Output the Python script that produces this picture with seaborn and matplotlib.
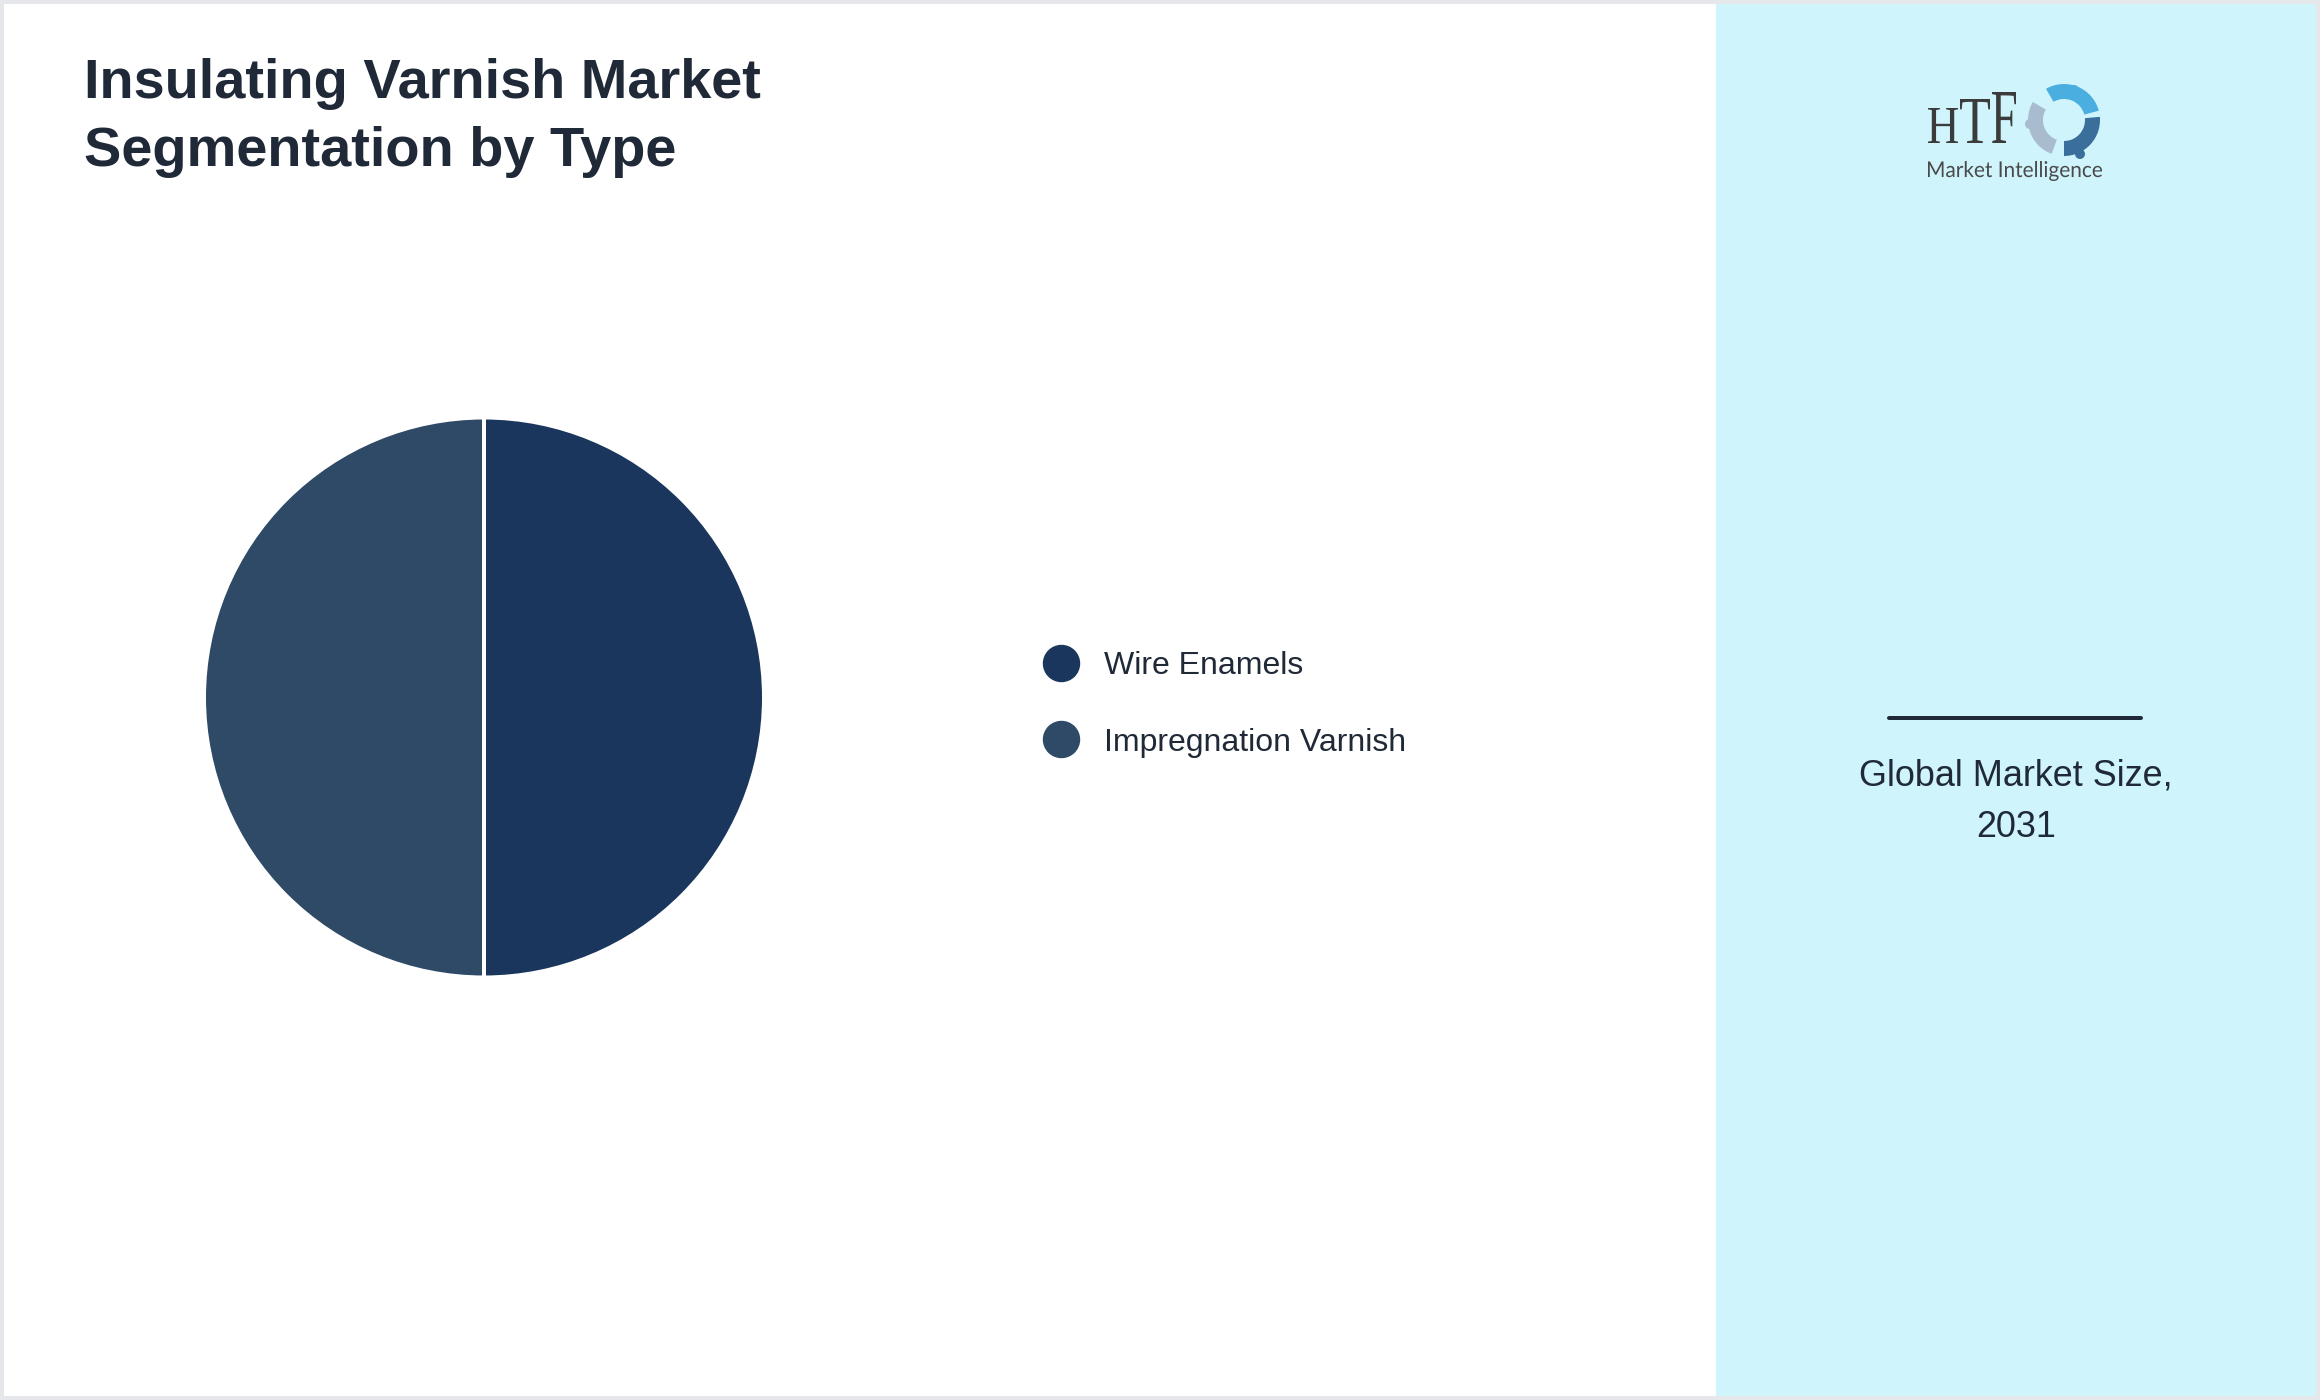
import matplotlib
matplotlib.use("Agg")
import matplotlib.pyplot as plt
import seaborn as sns
from matplotlib.patches import Rectangle, PathPatch, Wedge, Circle
from matplotlib.lines import Line2D
from matplotlib.textpath import TextPath
from matplotlib.font_manager import FontProperties
from matplotlib.transforms import Affine2D

# ---------------- data ----------------
title_lines = ["Insulating Varnish Market", "Segmentation by Type"]
segments = ["Wire Enamels", "Impregnation Varnish"]
shares = [50, 50]
segment_colors = ["#1b365d", "#2e4a66"]
panel_lines = ["Global Market Size,", "2031"]

# ---------------- style ----------------
sns.set_theme(style="white")
plt.rcParams["font.family"] = ["Liberation Sans", "DejaVu Sans"]

W, H = 2320, 1400
DPI = 100
TEXT = "#1f2937"

fig = plt.figure(figsize=(W / DPI, H / DPI), dpi=DPI)
fig.patch.set_facecolor("#e5e7eb")


def fx(x):
    return x / W


def fy(y):
    return 1 - y / H


def pt(px):
    return px * 72 / DPI


# white card and cyan side panel
fig.add_artist(Rectangle((fx(4), fy(1396)), (W - 8) / W, (H - 8) / H,
                         transform=fig.transFigure, facecolor="white",
                         edgecolor="none", zorder=0))
fig.add_artist(Rectangle((fx(1716), fy(1396)), (2316 - 1716) / W, (H - 8) / H,
                         transform=fig.transFigure, facecolor="#cff4fc",
                         edgecolor="none", zorder=0))

# ---------------- title ----------------
fig.text(fx(84), fy(98), title_lines[0], fontsize=pt(56), fontweight="bold",
         color=TEXT, va="baseline", ha="left")
fig.text(fx(84), fy(166), title_lines[1], fontsize=pt(56), fontweight="bold",
         color=TEXT, va="baseline", ha="left")

# ---------------- pie ----------------
cx, cy, r = 484, 697.5, 280
ax = fig.add_axes([fx(cx - r), fy(cy + r), 2 * r / W, 2 * r / H])
palette = sns.color_palette(segment_colors)
ax.pie(shares, colors=palette, startangle=90, counterclock=False,
       wedgeprops=dict(edgecolor="white", linewidth=pt(4)))
ax.set_xlim(-1, 1)
ax.set_ylim(-1, 1)
ax.set_aspect("equal")
ax.axis("off")

# ---------------- legend ----------------
handles = [Line2D([0], [0], marker="o", linestyle="none", markersize=pt(36),
                  markerfacecolor=c, markeredgecolor=c) for c in palette]
leg = fig.legend(handles, segments, loc="center left",
                 bbox_to_anchor=(fx(1043), fy(704.5)), frameon=False,
                 fontsize=pt(32), handlelength=1.125, handletextpad=0.78,
                 labelspacing=1.44, borderpad=0, borderaxespad=0)
for t in leg.get_texts():
    t.set_color(TEXT)

# ---------------- right panel ----------------
fig.add_artist(Line2D([fx(1889), fx(2141)], [fy(718), fy(718)],
                      transform=fig.transFigure, color=TEXT, linewidth=pt(4)))
fig.text(fx(2016), fy(786), panel_lines[0], fontsize=pt(36), color=TEXT,
         ha="center", va="baseline")
fig.text(fx(2016), fy(837), panel_lines[1], fontsize=pt(36), color=TEXT,
         ha="center", va="baseline")

# ---------------- logo ----------------
def place_text(s, family, x0, x1, top, bottom, color, weight="normal"):
    tp = TextPath((0, 0), s, size=100, prop=FontProperties(family=family, weight=weight))
    e = tp.get_extents()
    sx = (x1 - x0) / e.width
    sy = (bottom - top) / e.height
    tr = Affine2D().translate(-e.x0, -e.y0).scale(sx, sy).translate(x0, H - bottom)
    tr = tr + Affine2D().scale(1 / W, 1 / H)
    fig.add_artist(PathPatch(tr.transform_path(tp), transform=fig.transFigure,
                             facecolor=color, edgecolor="none", zorder=3))


logo_dark = "#3b3b3b"
place_text("H", "Liberation Serif", 1928, 1958, 108, 143, logo_dark)
place_text("T", "Liberation Serif", 1960, 1990, 99, 143, logo_dark)
place_text("F", "Liberation Serif", 1992, 2016, 92, 143, logo_dark)
place_text("Market Intelligence", "Lato", 1928, 2102, 161, 181, "#4a4a4a")

# icon drawn in a small pixel-scaled axes
icx, icy = 2064, 120
iax = fig.add_axes([fx(icx - 42), fy(icy + 42), 84 / W, 84 / H])
iax.set_xlim(-42, 42)
iax.set_ylim(-42, 42)
iax.set_aspect("equal")
iax.axis("off")
for (a0, a1, col, hx, hy) in [(15, 120, "#4aaee0", 10, 30),
                              (150, 250, "#a9bccf", -34, -4),
                              (270, 5, "#3a6e9b", 16, -34)]:
    iax.add_patch(Wedge((0, 0), 36, a0, a1, width=15, facecolor=col, edgecolor="none"))
    iax.add_patch(Circle((hx, hy), 5, facecolor=col, edgecolor="none"))

fig.savefig("out.png", dpi=DPI, facecolor=fig.get_facecolor())
